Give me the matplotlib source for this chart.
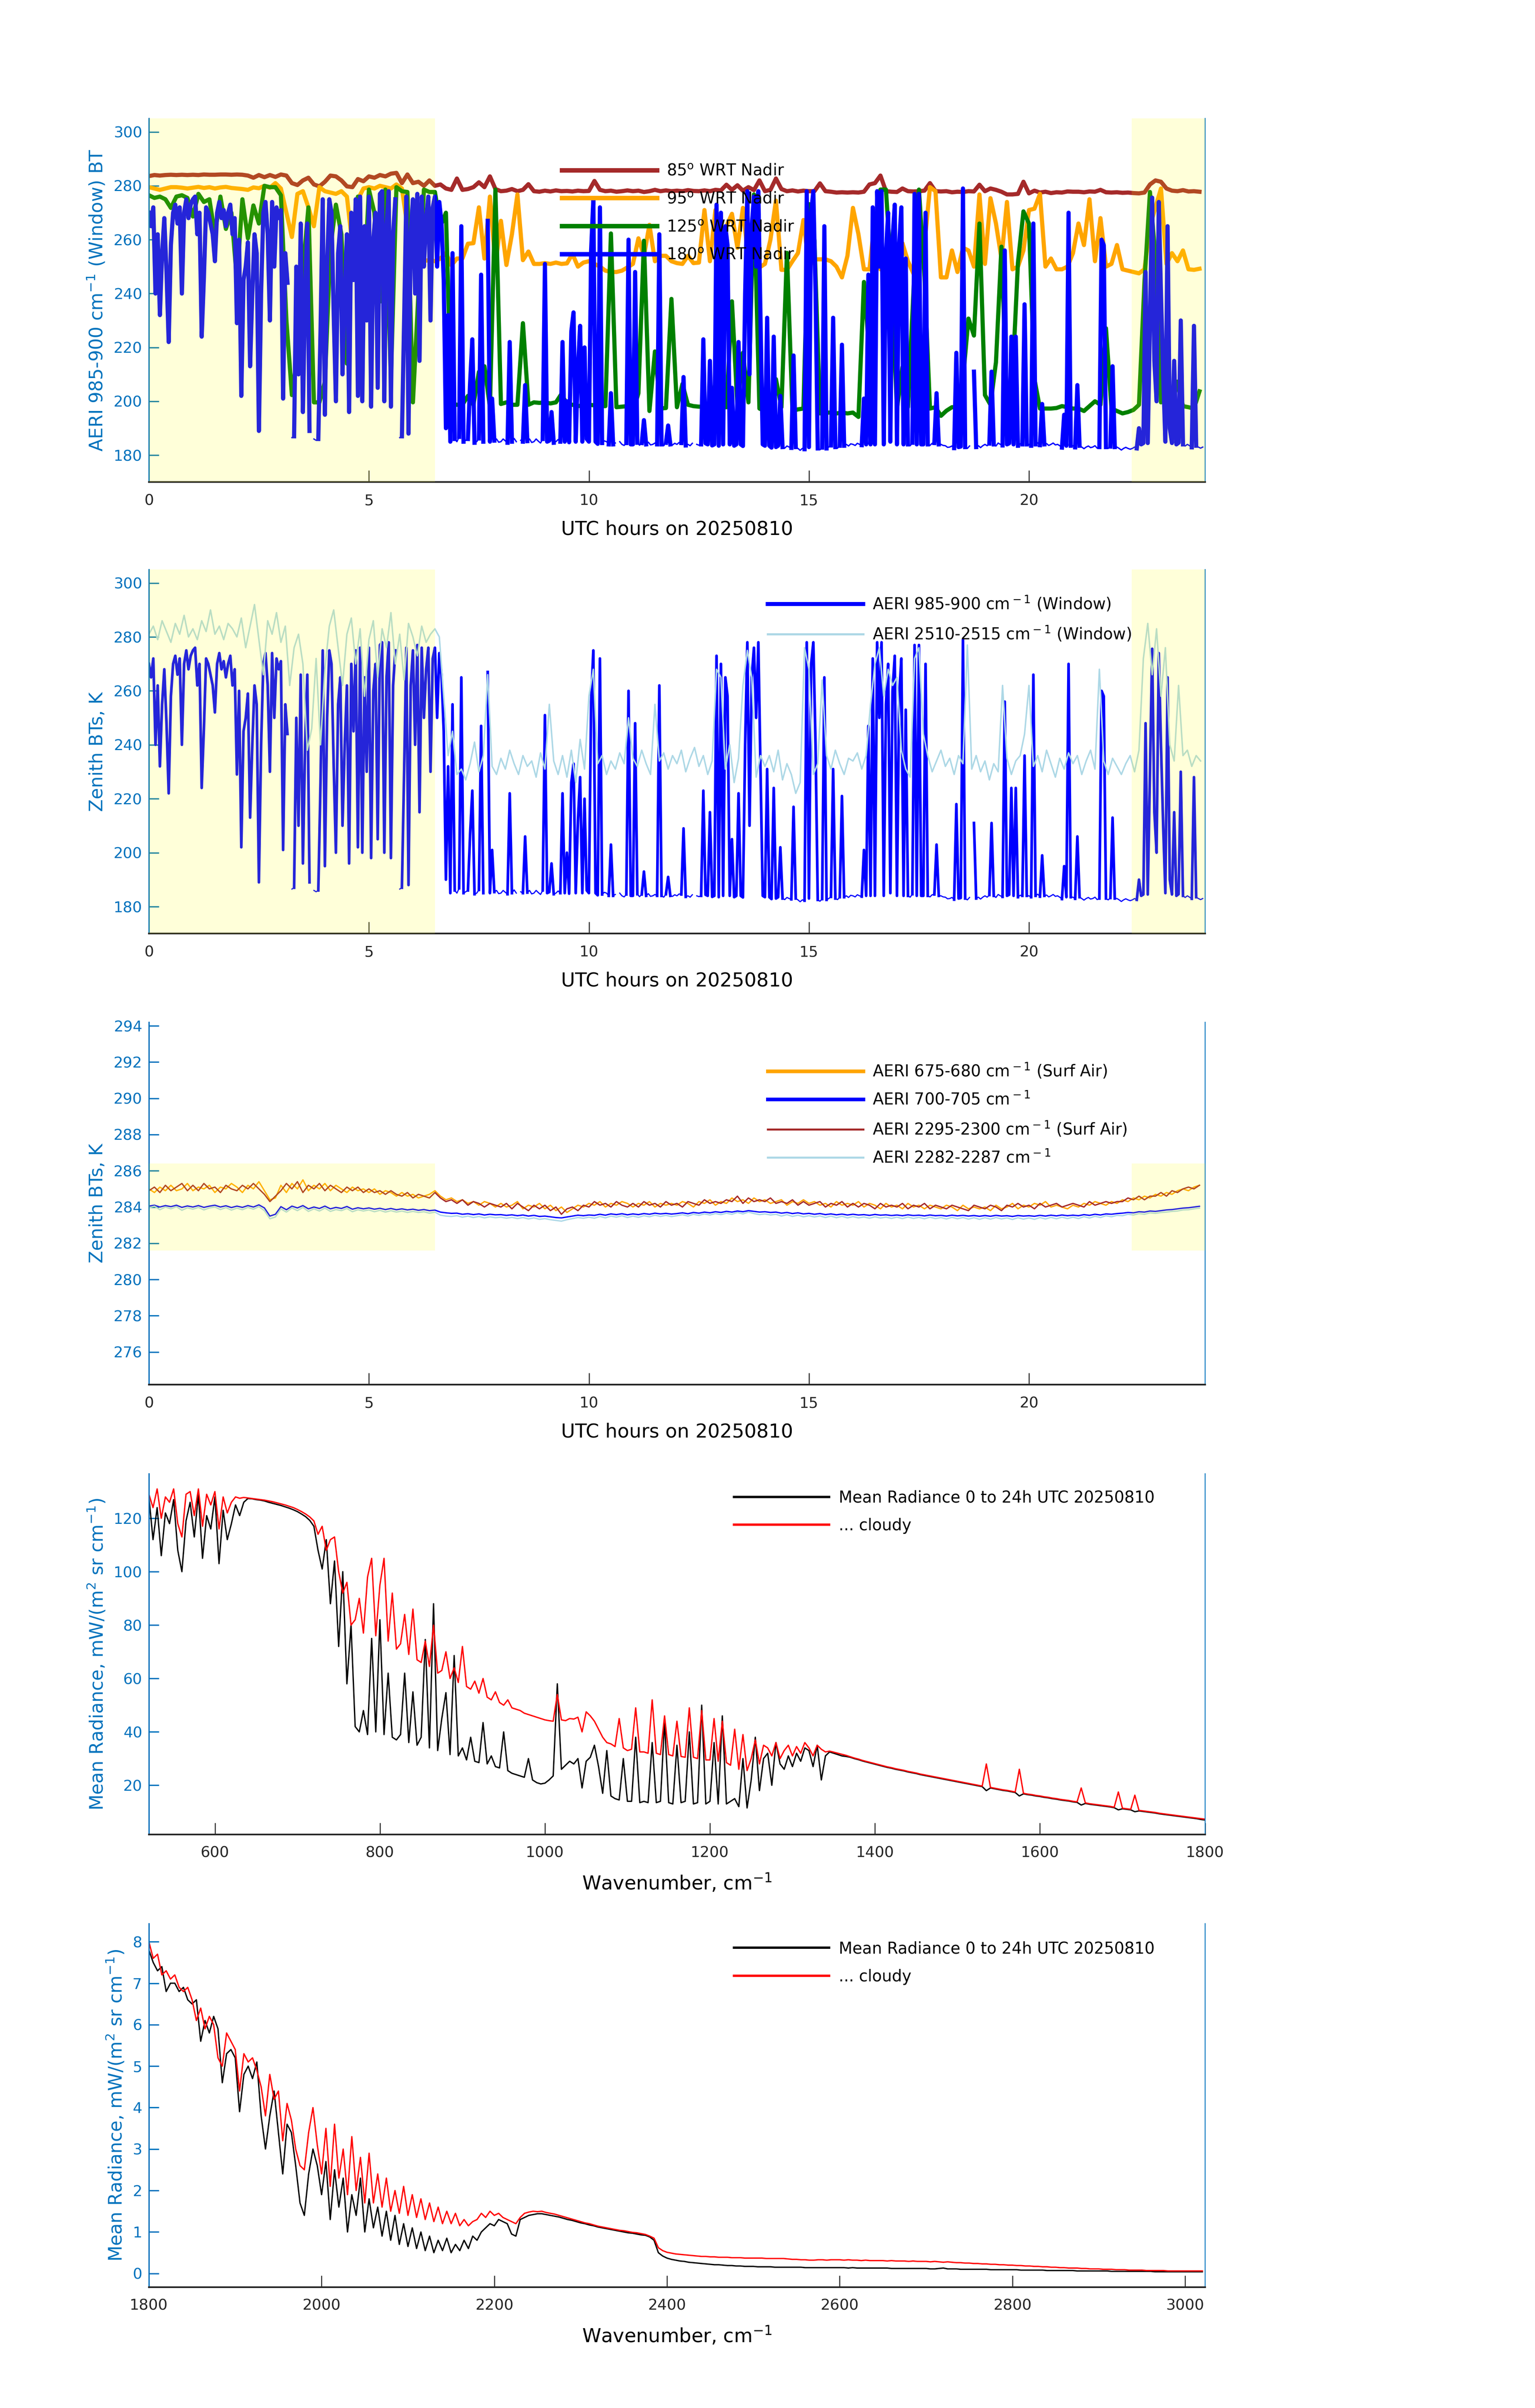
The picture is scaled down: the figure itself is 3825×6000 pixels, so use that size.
import numpy as np
import matplotlib.pyplot as plt

nan = np.nan

# ---------------------------------------------------------------
# Panel 1: window BT at four scan angles (0.125 h steps, 0 .. 23.875 h)

bt_85 = [
    283.6, 284.0, 283.8, 284.0, 284.1, 284.0, 284.1, 284.0,
    284.1, 284.0, 284.2, 284.1, 284.1, 284.2, 284.2, 284.1,
    284.2, 284.1, 283.8, 283.0, 284.0, 283.2, 284.0, 283.3,
    284.2, 283.8, 281.0, 280.3, 282.0, 283.0, 280.5, 279.8,
    281.5, 283.8, 283.5, 282.0, 279.8, 279.5, 282.5, 281.7,
    283.5, 283.0, 284.0, 283.5, 284.5, 284.8, 281.0, 284.2,
    281.0, 281.5, 280.0, 282.0, 280.0, 280.5, 279.0, 278.5,
    282.7, 278.5, 278.8, 279.5, 281.3, 279.5, 283.5, 278.8,
    278.0, 278.2, 278.8, 278.0, 278.5, 280.6, 278.0, 277.8,
    278.2, 277.9, 278.3, 278.0, 278.1, 277.9, 278.2, 278.0,
    278.1, 281.8, 278.5, 278.0, 278.2, 277.8, 278.0, 278.3,
    278.0, 278.2, 277.7, 278.0, 278.5, 278.0, 278.3, 278.0,
    278.2, 278.0, 278.4, 278.1, 278.0, 278.3, 278.0, 278.5,
    278.3, 280.4, 278.5, 280.2, 278.2, 279.5, 278.4, 282.0,
    278.0, 278.5, 282.7, 278.8, 278.0, 278.3, 277.9, 278.2,
    278.0, 278.0, 280.9, 278.0, 277.8, 277.5, 277.6, 277.5,
    277.6, 277.5, 277.8, 280.5, 281.0, 283.8, 278.0, 277.8,
    277.7, 279.0, 278.0, 277.9, 278.0, 278.2, 281.0, 278.0,
    277.9, 278.0, 277.6, 277.8, 277.7, 278.0, 277.9, 280.4,
    278.0, 279.0, 278.5, 277.8, 276.8, 276.8, 277.0, 281.5,
    277.2, 278.2, 277.5, 277.8, 277.3, 277.6, 277.5, 277.9,
    277.8, 277.8, 277.6, 277.9, 277.8, 278.5, 277.6, 277.5,
    277.6, 277.4, 277.5, 277.3, 277.2, 277.5, 280.5, 282.0,
    281.5, 279.0, 278.2, 278.0, 278.4, 277.9, 278.0, 277.8]

bt_95 = [
    279.5, 279.0, 278.5, 279.0, 279.5, 279.5, 279.3, 279.0,
    279.3, 279.6, 279.2, 279.5, 279.0, 279.4, 279.6, 279.2,
    279.0, 278.8, 278.5, 279.4, 279.1, 280.0, 279.3, 281.0,
    279.0, 270.0, 261.0, 277.0, 278.0, 272.0, 265.0, 279.5,
    278.0, 277.5, 277.0, 278.0, 276.0, 258.0, 275.0, 279.0,
    279.5, 279.0, 280.0, 279.5, 279.0, 280.5, 279.0, 265.0,
    252.0, 252.5, 252.0, 252.5, 252.0, 253.0, 255.0, 250.5,
    253.0, 253.0, 258.5, 258.7, 272.0, 253.0, 276.0, 250.6,
    267.0, 250.6, 262.0, 276.8, 252.4, 255.6, 251.0, 251.0,
    251.3, 251.0, 251.5, 251.0, 251.2, 254.7, 250.0, 251.5,
    252.0, 251.0, 250.0, 248.5, 248.0, 248.0, 248.5, 249.7,
    251.0, 260.5, 254.0, 265.5, 252.0, 254.0, 254.0, 252.0,
    251.3, 251.0, 254.0, 251.3, 251.5, 271.0, 252.0, 271.0,
    262.0, 265.0, 269.6, 257.0, 271.8, 252.0, 249.7, 249.7,
    251.0, 260.0, 274.5, 248.8, 248.8, 252.0, 255.0, 267.3,
    250.0, 252.7, 252.7, 252.7, 252.0, 250.0, 246.0, 254.0,
    271.8, 262.0, 249.0, 249.0, 268.0, 249.0, 251.0, 250.0,
    247.5, 258.7, 252.0, 247.4, 257.0, 258.0, 279.5, 278.0,
    246.0, 246.0, 256.0, 248.0, 257.0, 256.0, 250.0, 276.8,
    251.0, 275.4, 266.0, 253.0, 274.0, 249.0, 250.0, 256.0,
    271.0, 271.5, 277.0, 250.0, 253.0, 249.0, 249.0, 250.0,
    255.0, 266.0, 258.0, 275.0, 252.0, 268.0, 250.0, 251.0,
    258.0, 249.0, 248.5, 248.0, 247.5, 249.0, 265.0, 272.0,
    279.0, 251.0, 255.0, 252.0, 256.0, 249.0, 248.8, 249.2]

bt_125 = [
    276.5, 275.5, 276.0, 275.0, 271.8, 276.0, 276.5, 275.5,
    268.6, 277.0, 274.0, 275.0, 262.0, 276.0, 264.0, 270.0,
    245.0, 275.0, 260.5, 272.7, 266.0, 280.0, 279.5, 279.5,
    276.5, 230.0, 202.3, 217.0, 248.8, 272.0, 199.6, 199.6,
    207.3, 257.0, 273.0, 262.0, 214.0, 262.0, 276.0, 238.9,
    278.6, 270.0, 237.0, 278.6, 208.0, 279.5, 278.0, 277.7,
    199.6, 240.0, 278.6, 277.7, 277.7, 265.0, 270.0, 199.2,
    198.7, 198.7, 202.0, 198.7, 210.9, 213.0, 198.0, 278.6,
    199.0, 199.6, 198.7, 198.7, 229.0, 198.7, 199.6, 199.4,
    199.6, 199.2, 199.6, 202.7, 199.0, 198.7, 198.2, 198.5,
    198.7, 198.5, 198.2, 198.2, 262.3, 197.8, 198.0, 198.2,
    196.0, 203.0, 259.6, 196.4, 218.5, 197.3, 197.5, 238.0,
    197.8, 206.4, 198.7, 198.2, 198.0, 198.0, 199.6, 206.4,
    197.8, 197.8, 237.1, 198.0, 218.0, 199.6, 276.8, 197.3,
    196.4, 196.4, 208.2, 197.8, 255.1, 196.4, 197.0, 197.3,
    273.2, 259.6, 195.5, 195.8, 195.8, 195.5, 195.8, 195.5,
    195.8, 194.2, 244.3, 217.0, 246.0, 278.6, 278.6, 246.1,
    197.3, 212.7, 197.8, 240.7, 278.6, 246.1, 197.3, 197.8,
    194.6, 196.5, 197.8, 197.8, 208.2, 230.7, 224.4, 266.0,
    202.3, 198.7, 214.5, 257.4, 198.7, 208.2, 251.5, 270.5,
    266.0, 208.2, 197.3, 197.3, 197.3, 197.5, 198.2, 197.8,
    197.3, 197.3, 196.4, 198.2, 200.0, 198.7, 227.1, 197.3,
    196.4, 195.5, 196.0, 196.8, 198.7, 244.3, 277.7, 253.3,
    199.6, 202.3, 198.2, 207.3, 198.2, 197.8, 197.3, 203.7]

# 180 deg (zenith) = AERI 985-900 window BT, 0.05 h steps
bt_180 = [
    270, 265, 272, 240, 262, 232, 255, 268, 248, 222, 258, 270, 273, 266, 272, 240, 270, 275, 268, 273,
    275, 276, 262, 270, 224, 246, 272, 270, 266, 262, 252, 270, 274, 268, 271, 265, 270, 273, 262, 268,
    229, 260, 202, 245, 250, 259, 213, 240, 262, 255, 189, 240, 270, 274, 262, 230, 274, 250, 272, 268,
    271, 201, 255, 244, nan, 186.5, 187, 250, 210, 266, 196, 240, 266, 189, nan, 186, 185.5, 186, 226, 275,
    195, 250, 275, 270, 232, 200, 255, 265, 210, 240, 262, 196, 270, 245, 275, 202, 276, 200, 265, 230,
    276, 198, 260, 270, 205, 277, 278, 200, 265, 278, 198, 262, 275, nan, 186.5, 187, 230, 276, 188, 262,
    275, 240, 277, 215, 276, 250, 268, 276, 230, 272, 276, 250, 274, 266, 245, 190, 232, 185, 255, 186,
    185, 186.8, 265, 185, 185.5, 186, 207, 223, 184.6, 185, 186.2, 247, 185, nan, 267, 185, 201, 185.4, 186, 184.8,
    185, 186, 185.3, 184.6, 222, 185, 186.2, 185, nan, 185.5, 185, 206, 185.2, 186, 184.7, 185, 186, 185.2, 184.5, 186,
    251, 185, 185.4, 196, 184.6, 185, 185.8, 185, 222, 185, 200, 184.8, 226, 233, 185, 212, 228, 185, 220, 186,
    185, 256, 275, 185, 184.2, 272, 184.5, 185.3, 185, 184, 203, 184, 184.5, nan, 185, 184, 183.6, 184.5, 260, 184,
    184, 248, 184.6, 183.7, 184.5, 193, 184, 184.8, 183.8, 184, 184.5, 184, 262, 184, 183.5, 184.6, 191, 184, 183.8, 184.4,
    184, 184.7, 184.5, 209, 183.6, 184, 183.5, 184.4, nan, 184, 183.7, 184, 223, 184.4, 184, 215, 183.6, 184, 273, 183.5,
    270, 184, 265, 258, 184, 205, 183.5, 184, 222, 184, 183.4, 240, 278, 210, 265, 276, 250, 278, 230, 184,
    183.5, 231, 183.5, 182.8, 224, 183, 183.5, 202, 183, 182.6, 183.4, 183, 182.7, 217, 183, 182.5, 181.8, 182.5, 182.2, 278,
    183, 270, 278, 240, 182.5, 182, 182.8, 265, 182.5, 183, 183.6, 231, 183, 182.6, 183.5, 221, 183.5, 184, 183.4, 184.2,
    184, 183.6, 184.4, 184, 183.7, 201, 184, 247, 184, 272, 184, 278, 250, 278, 184, 255, 270, 185, 260, 273,
    184, 258, 272, 184, 253, 184, 183.5, 184.6, 277, 184, 277, 184, 184, 270, 184, 183.6, 184.4, 184.5, 203, 184,
    184, 183.6, 183.5, 182.9, 183, 183.4, 182.6, 218, 183, 183.2, 279, 183, 182.5, 183.4, nan, 211, 183, 183.5, 182.8, 183.5,
    184, 183.5, 184.3, 211, 184, 183.4, 184.5, 184, 183.6, 256, 184, 184.4, 224, 184, 224, 183.5, 184.2, 184, 236, 184,
    184, 183.5, 266, 184, 184.6, 183.7, 199, 184, 184.3, 183.6, 184, 184.5, 183.8, 184, 183.5, 182.8, 195, 183.5, 270, 183.5,
    183.5, 182.9, 206, 183.5, 183, 182.4, 183, 183.4, 182.8, 183, 183.5, 182.6, 183, 260, 258, 183, 182.5, 183.2, 213, 183,
    183, 182.5, 181.9, 182.5, 182.9, 182.5, 182.2, 182.5, 183, 182.5, 190, 184, 184.5, 248, 184.5, 230, 275.6, 215, 200, 274,
    240, 210, 185, 265, 190, 184.5, 215, 184, 184.6, 230, 184, 183.4, 184, 183.5, 182.9, 228, 183.5, 183, 182.6, 183]

# ---------------------------------------------------------------
# Panel 2: AERI 2510-2515 window BT (0.1 h steps)

bt_2510 = [
    281, 284, 279, 286, 282, 278, 285, 281, 288, 280,
    283, 279, 286, 282, 290, 281, 284, 279, 285, 283,
    280, 287, 276, 284, 292, 279, 266, 286, 281, 289,
    278, 284, 262, 276, 281, 270, 238, 246, 272, 240,
    268, 284, 290, 276, 262, 281, 287, 270, 283, 258,
    279, 286, 265, 283, 276, 289, 270, 281, 264, 285,
    280, 273, 284, 278, 281, 283, 280, 258, 236, 245,
    229, 231, 227, 233, 241, 230, 236, 266, 232, 229,
    235, 231, 238, 233, 229, 236, 232, 234, 228, 237,
    231, 255, 234, 229, 236, 228, 238, 226, 242, 231,
    258, 268, 233, 236, 229, 234, 231, 237, 233, 250,
    235, 232, 238, 233, 229, 255, 234, 237, 231, 236,
    233, 238, 230, 235, 239, 232, 236, 229, 234, 268,
    265, 231, 240, 226, 235, 262, 275, 265, 228, 236,
    232, 236, 230, 238, 227, 233, 229, 222, 226, 276,
    268, 229, 233, 264, 236, 231, 238, 233, 229, 235,
    234, 237, 231, 236, 255, 270, 276, 258, 268, 262,
    265, 238, 231, 228, 272, 276, 244, 236, 230, 234,
    238, 232, 235, 229, 236, 233, 277, 231, 236, 230,
    234, 227, 233, 230, 262, 235, 229, 234, 236, 244,
    262, 232, 236, 230, 238, 233, 228, 235, 231, 237,
    233, 236, 229, 234, 238, 231, 268, 234, 229, 235,
    232, 229, 233, 236, 230, 238, 272, 285, 266, 283,
    258, 276, 240, 234, 262, 236, 238, 232, 236, 234]

# ---------------------------------------------------------------
# Panel 3: surface air / opaque channels (0.125 h steps)

bt_675 = [
    285.0, 284.8, 285.1, 284.9, 285.2, 284.9, 285.0, 285.3,
    284.9, 285.1, 285.0, 285.2, 284.8, 285.1, 285.0, 285.3,
    285.1, 284.8, 285.2, 285.0, 285.4, 284.9, 284.4, 284.5,
    285.2, 284.8, 285.3, 285.0, 285.5, 284.9, 285.2, 285.0,
    285.3, 284.9, 285.2, 285.0, 284.8, 285.1, 284.9, 285.0,
    284.8, 285.0, 284.7, 284.9, 284.8, 284.6, 284.8, 284.6,
    284.7, 284.5, 284.6, 284.7, 284.9, 284.6, 284.4, 284.5,
    284.3, 284.4, 284.2, 284.3, 284.1, 284.3, 284.2, 284.0,
    284.2, 284.0, 284.1, 284.3, 283.9, 284.1, 284.0, 284.2,
    283.9, 284.1, 283.8, 284.0, 283.7, 283.9, 284.1, 284.0,
    284.2, 284.1, 284.3, 284.0, 284.2, 284.1, 284.3, 284.2,
    284.0, 284.2, 284.1, 284.3, 284.0, 284.2, 284.1, 284.2,
    284.1, 284.3, 284.2, 284.0, 284.3, 284.2, 284.4, 284.1,
    284.3, 284.2, 284.5, 284.3, 284.4, 284.2, 284.5, 284.3,
    284.4, 284.2, 284.3, 284.4, 284.1, 284.3, 284.2, 284.4,
    284.2, 284.3, 284.1, 284.2, 284.0, 284.3, 284.1, 284.2,
    284.1, 284.3, 284.0, 284.2, 284.1, 283.9, 284.2, 284.0,
    284.1, 283.9, 284.2, 284.0, 284.1, 283.9, 284.1, 284.0,
    283.9, 284.1, 284.0, 283.8, 284.1, 283.9, 284.0, 283.9,
    284.0, 283.8, 284.1, 283.9, 284.0, 284.2, 283.9, 284.1,
    284.0, 284.2, 284.1, 284.3, 284.0, 284.1, 284.0, 283.9,
    284.1, 284.0, 284.2, 284.1, 284.3, 284.2, 284.1, 284.3,
    284.2, 284.4, 284.3, 284.5, 284.4, 284.6, 284.5, 284.7,
    284.6, 284.8, 284.7, 284.9, 285.0, 284.9, 285.1, 285.2]

bt_700 = [
    284.05, 284.10, 284.00, 284.08, 284.02, 284.10, 283.98, 284.06,
    284.00, 284.08, 283.98, 284.05, 284.10, 284.00, 284.07, 283.97,
    284.05, 283.98, 284.08, 284.00, 284.12, 283.95, 283.50, 283.60,
    284.02, 283.85, 284.05, 283.95, 284.08, 283.90, 284.00, 283.92,
    284.05, 283.90, 283.98, 283.92, 284.03, 283.88, 283.96, 283.90,
    283.95, 283.88, 283.93, 283.86, 283.92, 283.85, 283.90, 283.84,
    283.88, 283.82, 283.86, 283.80, 283.83, 283.72, 283.68, 283.65,
    283.66, 283.60, 283.63, 283.58, 283.62, 283.56, 283.60, 283.57,
    283.58, 283.54, 283.57, 283.52, 283.56, 283.50, 283.54, 283.48,
    283.50, 283.46, 283.42, 283.40, 283.45, 283.50, 283.55, 283.52,
    283.56, 283.54, 283.60, 283.55, 283.62, 283.58, 283.63, 283.57,
    283.62, 283.58, 283.64, 283.60, 283.66, 283.62, 283.65, 283.61,
    283.64, 283.68, 283.63, 283.70, 283.66, 283.72, 283.68, 283.74,
    283.70, 283.76, 283.72, 283.78, 283.74, 283.80, 283.76, 283.72,
    283.74, 283.70, 283.72, 283.66, 283.70, 283.64, 283.68, 283.62,
    283.65, 283.60, 283.64, 283.58, 283.62, 283.57, 283.61, 283.56,
    283.60, 283.56, 283.58, 283.54, 283.59, 283.55, 283.57, 283.53,
    283.56, 283.52, 283.57, 283.53, 283.55, 283.51, 283.56, 283.52,
    283.54, 283.50, 283.55, 283.51, 283.54, 283.50, 283.53, 283.49,
    283.53, 283.49, 283.54, 283.50, 283.52, 283.48, 283.53, 283.50,
    283.52, 283.49, 283.54, 283.50, 283.55, 283.51, 283.56, 283.52,
    283.55, 283.52, 283.58, 283.54, 283.60, 283.56, 283.62, 283.60,
    283.64, 283.66, 283.70, 283.68, 283.74, 283.72, 283.78, 283.76,
    283.80, 283.84, 283.86, 283.90, 283.94, 283.96, 284.00, 284.04]

bt_2295 = [
    284.9, 285.1, 284.8, 285.2, 284.9, 285.1, 285.3, 284.9,
    285.2, 284.9, 285.3, 285.0, 285.1, 284.8, 285.2, 285.0,
    284.9, 285.2, 285.0, 285.3, 285.0, 284.7, 284.3, 284.6,
    284.9, 285.3, 285.0, 285.4, 284.8, 285.2, 285.0, 285.3,
    284.9, 285.2, 285.0, 284.8, 285.1, 284.9, 285.1, 284.8,
    285.0, 284.8, 284.9, 284.7, 284.9, 284.7, 284.6, 284.8,
    284.5, 284.7, 284.6, 284.5, 284.8, 284.5, 284.3, 284.4,
    284.2, 284.4, 284.1, 284.3, 284.2, 284.0, 284.2, 284.1,
    284.0, 284.2, 283.9, 284.2, 284.0, 283.8, 284.1, 283.9,
    284.1, 283.8, 284.0, 283.6, 283.9, 284.0, 283.8, 284.1,
    284.0, 284.3, 284.1, 284.2, 284.0, 284.3, 284.1, 284.0,
    284.2, 284.0, 284.3, 284.1, 284.2, 284.0, 284.3, 284.1,
    284.2, 284.0, 284.3, 284.2, 284.1, 284.4, 284.2, 284.3,
    284.2, 284.4, 284.3, 284.6, 284.2, 284.5, 284.3, 284.4,
    284.3, 284.5, 284.2, 284.3, 284.2, 284.4, 284.1, 284.3,
    284.1, 284.2, 284.3, 284.0, 284.2, 284.1, 284.3, 284.0,
    284.2, 284.0, 284.2, 284.1, 283.9, 284.2, 284.0, 284.1,
    284.0, 284.2, 283.9, 284.1, 284.0, 284.2, 283.9, 284.1,
    284.0, 283.9, 284.1, 284.0, 283.9, 283.8, 284.1, 284.0,
    283.9, 284.1, 284.0, 283.8, 284.1, 284.0, 284.2, 284.0,
    284.1, 283.9, 284.2, 284.0, 284.1, 284.2, 284.0, 284.1,
    284.2, 284.1, 284.0, 284.3, 284.1, 284.2, 284.3, 284.2,
    284.3, 284.3, 284.5, 284.4, 284.6, 284.4, 284.6, 284.6,
    284.8, 284.6, 284.9, 284.8, 285.0, 285.1, 285.0, 285.2]

bt_2282 = [
    283.95, 284.05, 283.85, 284.00, 283.90, 284.02, 283.82, 283.96,
    283.88, 283.98, 283.84, 283.95, 284.00, 283.86, 283.97, 283.83,
    283.94, 283.85, 283.98, 283.88, 284.02, 283.80, 283.35, 283.45,
    283.90, 283.72, 283.95, 283.80, 283.98, 283.76, 283.90, 283.78,
    283.94, 283.76, 283.86, 283.80, 283.92, 283.74, 283.85, 283.78,
    283.84, 283.74, 283.82, 283.72, 283.80, 283.72, 283.78, 283.70,
    283.76, 283.70, 283.74, 283.66, 283.72, 283.55, 283.50, 283.48,
    283.52, 283.44, 283.50, 283.42, 283.48, 283.40, 283.46, 283.41,
    283.44, 283.38, 283.43, 283.36, 283.42, 283.34, 283.40, 283.32,
    283.36, 283.30, 283.26, 283.22, 283.30, 283.36, 283.42, 283.38,
    283.44, 283.38, 283.48, 283.40, 283.50, 283.44, 283.52, 283.42,
    283.50, 283.43, 283.52, 283.46, 283.55, 283.48, 283.54, 283.47,
    283.52, 283.58, 283.50, 283.60, 283.54, 283.62, 283.56, 283.64,
    283.58, 283.66, 283.60, 283.70, 283.62, 283.72, 283.64, 283.58,
    283.62, 283.56, 283.60, 283.50, 283.58, 283.48, 283.55, 283.46,
    283.52, 283.45, 283.51, 283.42, 283.50, 283.41, 283.49, 283.40,
    283.47, 283.40, 283.45, 283.38, 283.46, 283.39, 283.44, 283.37,
    283.44, 283.36, 283.45, 283.37, 283.43, 283.35, 283.44, 283.36,
    283.42, 283.34, 283.43, 283.35, 283.42, 283.33, 283.41, 283.32,
    283.41, 283.33, 283.42, 283.34, 283.40, 283.31, 283.41, 283.33,
    283.40, 283.32, 283.42, 283.34, 283.43, 283.35, 283.44, 283.36,
    283.44, 283.36, 283.47, 283.39, 283.49, 283.42, 283.52, 283.46,
    283.54, 283.52, 283.60, 283.56, 283.64, 283.60, 283.68, 283.65,
    283.70, 283.72, 283.76, 283.78, 283.84, 283.85, 283.90, 283.94]

# ---------------------------------------------------------------
# Panel 4: mean radiance 520-1800 cm-1 (5 cm-1 steps)

rad_all_lw = [
    128, 112, 124, 106, 122, 118, 127, 108, 100, 119,
    126, 113, 129, 105, 121, 116, 128, 103, 123, 112,
    118, 125, 121, 126, 127.4, 127.3, 127.0, 126.8, 126.5, 126.0,
    125.6, 125.2, 124.8, 124.3, 123.8, 123.2, 122.5, 121.6, 120.6, 119.2,
    117, 108, 101, 112, 88, 104, 72, 100, 58, 80,
    42, 40, 48, 39, 75, 40, 82, 39, 62, 38,
    37, 39, 62, 36, 55, 35, 38, 74.6, 34, 88,
    33, 45, 54.7, 31.5, 68.6, 31, 34, 29.5, 38, 29,
    28.5, 43.5, 28, 31, 27, 26.5, 40, 25.5, 24.5, 24,
    23.5, 23, 30, 22, 21, 20.5, 20.8, 22, 23.5, 58,
    26, 27.5, 29, 28, 30, 19, 29, 30.5, 35, 27,
    17, 33, 16, 15, 14.5, 30, 14, 14, 38, 13.5,
    14, 13.5, 36, 13.5, 14, 44, 13.5, 13, 35, 13.5,
    14, 40, 13, 13.5, 50, 13, 14, 36, 13, 46,
    13, 14, 15, 12, 30, 11.5, 22, 38, 18, 30,
    32, 20, 36, 28, 26, 31, 27, 32, 29, 34,
    33, 27, 35, 22, 31, 32.5, 32, 31.5, 31, 30.8,
    30.5, 30.0, 29.6, 29.1, 28.7, 28.3, 27.9, 27.5, 27.1, 26.7,
    26.4, 26.0, 25.7, 25.4, 25.0, 24.7, 24.4, 24.0, 23.7, 23.4,
    23.1, 22.8, 22.5, 22.2, 21.9, 21.6, 21.3, 21.0, 20.7, 20.4,
    20.1, 19.8, 19.5, 18.0, 19.0, 18.7, 18.4, 18.1, 17.9, 17.6,
    17.3, 16.0, 16.8, 16.5, 16.3, 16.0, 15.8, 15.5, 15.3, 15.0,
    14.8, 14.5, 14.3, 14.1, 13.8, 13.6, 12.6, 13.2, 12.9, 12.7,
    12.5, 12.3, 12.1, 11.9, 11.6, 10.8, 11.2, 11.0, 10.8, 10.1,
    10.4, 10.2, 10.0, 9.8, 9.6, 9.3, 9.1, 8.9, 8.7, 8.5,
    8.3, 8.1, 7.9, 7.7, 7.5, 7.2, 7.0]

rad_cld_lw = [
    129, 124, 131, 120, 128, 126, 131, 118, 113, 129,
    130, 121, 131, 117, 129, 125, 130, 116, 128, 122,
    126, 128, 127.5, 127.8, 127.6, 127.4, 127.2, 127.0, 126.8, 126.5,
    126.2, 125.8, 125.4, 125.0, 124.5, 124.0, 123.3, 122.5, 121.6, 120.5,
    119, 114, 117, 108, 112, 113, 100, 92, 96, 80,
    82, 90, 77, 98, 105, 76, 95, 105, 74, 92,
    71, 73, 84, 69, 86, 67, 66, 74, 64.5, 80,
    62, 63, 70, 60, 64, 58.5, 72, 57, 56, 59,
    54.5, 60, 53, 52, 55, 51, 50, 52, 49, 48.5,
    48, 47, 46.5, 46, 45.5, 45, 44.5, 44.2, 44, 54,
    44.5, 44.2, 45, 44.8, 45.5, 40, 47.5, 46, 44, 41,
    38, 36, 35.5, 34.5, 45, 34, 33, 33.5, 49, 32.5,
    32.5, 32, 52, 32, 31.5, 46, 31.5, 31, 44, 30.8,
    30.5, 49, 30.5, 30, 48, 29.5, 29.5, 45, 29, 44,
    28.5, 27.5, 41, 26, 39, 25.5, 30, 37, 28, 35,
    34, 31, 36, 30, 33, 35, 31, 34.5, 32, 36,
    34, 31, 35, 33.5, 32.5, 32.8, 32.4, 32, 31.6, 31.2,
    30.7, 30.2, 29.8, 29.3, 28.9, 28.5, 28.1, 27.7, 27.3, 26.9,
    26.6, 26.2, 25.9, 25.6, 25.2, 24.9, 24.6, 24.2, 23.9, 23.6,
    23.3, 23.0, 22.7, 22.4, 22.1, 21.8, 21.5, 21.2, 20.9, 20.6,
    20.3, 20.0, 19.7, 28.0, 19.2, 18.9, 18.6, 18.3, 18.1, 17.8,
    17.5, 26.0, 17.0, 16.7, 16.5, 16.2, 16.0, 15.7, 15.5, 15.2,
    15.0, 14.7, 14.5, 14.3, 14.0, 13.8, 19.0, 13.4, 13.1, 12.9,
    12.7, 12.5, 12.3, 12.1, 11.8, 17.5, 11.4, 11.2, 11.0, 16.3,
    10.6, 10.4, 10.2, 10.0, 9.8, 9.5, 9.3, 9.1, 8.9, 8.7,
    8.5, 8.3, 8.1, 7.9, 7.7, 7.5, 7.3]

# ---------------------------------------------------------------
# Panel 5: mean radiance 1800-3020 cm-1 (5 cm-1 steps)

rad_all_sw = [
    7.8, 7.5, 7.3, 7.4, 6.8, 7.0, 7.0, 6.8, 6.9, 6.6,
    6.5, 6.6, 5.6, 6.1, 5.8, 6.2, 5.9, 4.6, 5.3, 5.4,
    5.2, 3.9, 4.8, 5.0, 4.7, 5.1, 3.8, 3.0, 3.8, 4.4,
    3.4, 2.4, 3.6, 3.4, 2.6, 1.7, 1.4, 2.4, 3.0, 2.6,
    1.9, 2.7, 1.3, 2.5, 1.6, 2.3, 1.0, 1.9, 1.4, 2.3,
    1.0, 1.8, 1.1, 1.6, 0.9, 1.5, 0.8, 1.4, 0.7, 1.2,
    0.65, 1.1, 0.6, 1.0, 0.55, 0.9, 0.5, 0.8, 0.55, 0.85,
    0.5, 0.7, 0.55, 0.8, 0.6, 0.9, 0.8, 1.0, 1.1, 1.2,
    1.15, 1.3, 1.25, 1.2, 0.95, 0.9, 1.3, 1.35, 1.4, 1.42,
    1.44, 1.44, 1.42, 1.4, 1.38, 1.36, 1.33, 1.3, 1.28, 1.25,
    1.22, 1.2, 1.17, 1.15, 1.12, 1.1, 1.08, 1.06, 1.04, 1.02,
    1.0, 0.98, 0.97, 0.95, 0.93, 0.92, 0.88, 0.8, 0.5, 0.42,
    0.37, 0.34, 0.32, 0.3, 0.29, 0.27, 0.26, 0.25, 0.24, 0.23,
    0.22, 0.21, 0.21, 0.2, 0.19, 0.19, 0.18, 0.18, 0.17, 0.17,
    0.17, 0.16, 0.16, 0.16, 0.16, 0.15, 0.15, 0.15, 0.15, 0.15,
    0.15, 0.15, 0.14, 0.14, 0.14, 0.14, 0.14, 0.14, 0.14, 0.14,
    0.14, 0.14, 0.13, 0.14, 0.13, 0.13, 0.13, 0.13, 0.13, 0.13,
    0.13, 0.13, 0.12, 0.12, 0.12, 0.12, 0.12, 0.12, 0.12, 0.12,
    0.12, 0.11, 0.11, 0.12, 0.13, 0.11, 0.11, 0.11, 0.10, 0.10,
    0.10, 0.10, 0.10, 0.10, 0.10, 0.09, 0.09, 0.09, 0.09, 0.09,
    0.09, 0.09, 0.08, 0.08, 0.08, 0.08, 0.08, 0.08, 0.07, 0.07,
    0.07, 0.07, 0.07, 0.07, 0.07, 0.06, 0.06, 0.06, 0.06, 0.06,
    0.06, 0.06, 0.06, 0.05, 0.05, 0.05, 0.05, 0.05, 0.05, 0.05,
    0.05, 0.05, 0.05, 0.04, 0.04, 0.04, 0.04, 0.04, 0.04, 0.04,
    0.04, 0.04, 0.04, 0.04, 0.04]

rad_cld_sw = [
    8.0, 7.6, 7.7, 7.2, 7.3, 7.1, 7.2, 6.9, 6.8, 6.9,
    6.6, 6.1, 6.4, 5.9, 6.2, 6.0, 5.2, 5.0, 5.8, 5.6,
    5.4, 4.4, 5.3, 5.1, 5.2, 4.9, 4.5, 3.8, 4.8, 4.2,
    4.4, 3.2, 4.1, 3.7, 3.0, 2.6, 2.5, 3.4, 4.0, 3.1,
    2.4, 3.5, 2.1, 3.6, 2.3, 3.0, 1.9, 3.3, 2.0, 2.8,
    1.7, 2.9, 1.7, 2.4, 1.6, 2.3, 1.5, 2.0, 1.45, 2.1,
    1.4, 1.9, 1.35, 1.8, 1.3, 1.7, 1.25, 1.6, 1.2, 1.5,
    1.2, 1.45, 1.15, 1.3, 1.15, 1.25, 1.3, 1.45, 1.35, 1.5,
    1.4, 1.45, 1.35, 1.3, 1.25, 1.2, 1.35, 1.45, 1.48, 1.5,
    1.49, 1.5, 1.47, 1.45, 1.43, 1.4, 1.37, 1.34, 1.31, 1.28,
    1.25, 1.22, 1.2, 1.17, 1.14, 1.12, 1.1, 1.08, 1.06, 1.04,
    1.03, 1.01, 0.99, 0.98, 0.96, 0.94, 0.9, 0.85, 0.62, 0.55,
    0.51, 0.49, 0.47, 0.46, 0.45, 0.44, 0.43, 0.42, 0.41, 0.41,
    0.40, 0.40, 0.39, 0.39, 0.39, 0.38, 0.38, 0.38, 0.37, 0.37,
    0.37, 0.37, 0.37, 0.36, 0.36, 0.36, 0.36, 0.36, 0.35, 0.34,
    0.34, 0.33, 0.33, 0.32, 0.32, 0.33, 0.33, 0.32, 0.33, 0.33,
    0.33, 0.32, 0.33, 0.32, 0.32, 0.31, 0.32, 0.31, 0.31, 0.31,
    0.31, 0.30, 0.31, 0.30, 0.30, 0.30, 0.29, 0.30, 0.29, 0.29,
    0.29, 0.28, 0.29, 0.28, 0.27, 0.28, 0.27, 0.26, 0.26, 0.25,
    0.25, 0.24, 0.24, 0.23, 0.23, 0.22, 0.22, 0.21, 0.21, 0.20,
    0.20, 0.19, 0.19, 0.18, 0.18, 0.17, 0.17, 0.16, 0.16, 0.15,
    0.15, 0.14, 0.14, 0.13, 0.13, 0.13, 0.12, 0.12, 0.11, 0.11,
    0.11, 0.10, 0.10, 0.10, 0.09, 0.09, 0.09, 0.08, 0.08, 0.08,
    0.08, 0.07, 0.07, 0.07, 0.07, 0.07, 0.06, 0.06, 0.06, 0.06,
    0.06, 0.06, 0.06, 0.06, 0.06]

# ---------------------------------------------------------------
# axes: hours and wavenumbers

hr = np.arange(len(bt_85)) * 0.125
hr_b = np.arange(len(bt_180)) * 0.05
hr_lb = np.arange(len(bt_2510)) * 0.1
wn_lw = 520 + 5 * np.arange(len(rad_all_lw))
wn_sw = 1800 + 5 * np.arange(len(rad_all_sw))

# zenith window BT: clear-sky floor drawn thin, cloud spikes drawn thick
b180 = np.array(bt_180)
cloud = np.nan_to_num(b180) >= 190
near = cloud | np.roll(cloud, 1) | np.roll(cloud, -1)
b180_cloud = np.where(near, b180, nan)

day_spans = [(0, 6.5), (22.33, 24)]

mblue = '#0072BD'
brown = '#A52A2A'
orange = '#FFA500'
green = '#008000'
blue = '#0000FF'
lblue = '#ADD8E6'

fig = plt.figure(figsize=(12.75, 20), dpi=300)
L, W = 0.097, 0.688
boxes = [(0.7998, 0.1510), (0.6123, 0.1512), (0.4250, 0.1505), (0.2382, 0.1498), (0.0502, 0.1510)]
axs = [fig.add_axes([L, b, W, h]) for b, h in boxes]


def style(ax):
    ax.spines['top'].set_visible(False)
    ax.spines['left'].set_color(mblue)
    ax.spines['left'].set_linewidth(0.8)
    ax.spines['right'].set_color(mblue)
    ax.spines['right'].set_linewidth(0.5)
    ax.spines['bottom'].set_color('#262626')
    ax.spines['bottom'].set_linewidth(1.0)
    ax.tick_params(axis='x', direction='in', length=7, width=0.6, pad=7,
                   labelsize=9, colors='#262626')
    ax.tick_params(axis='y', direction='in', length=6, width=0.8, pad=4,
                   labelsize=9, colors=mblue)


def legend(ax, x, y, widths):
    leg = ax.legend(loc='upper left', bbox_to_anchor=(x, y), frameon=False, fontsize=9.5,
                    handlelength=6, handletextpad=0.6, labelspacing=0.75,
                    borderpad=0, borderaxespad=0)
    for ln, w in zip(leg.get_lines(), widths):
        ln.set_linewidth(w)
    return leg


# ---- panel 1
ax = axs[0]
ax.plot(hr, bt_85, color=brown, lw=2.5, label=r'85$^{\rm o}$ WRT Nadir')
ax.plot(hr, bt_95, color=orange, lw=2.5, label=r'95$^{\rm o}$ WRT Nadir')
ax.plot(hr, bt_125, color=green, lw=2.5, label=r'125$^{\rm o}$ WRT Nadir')
ax.plot(hr_b, b180_cloud, color=blue, lw=2.5, label=r'180$^{\rm o}$ WRT Nadir')
ax.plot(hr_b, bt_180, color=blue, lw=0.8)
for a, b in day_spans:
    ax.axvspan(a, b, color='yellow', alpha=0.15, lw=0, zorder=5)
ax.set_xlim(0, 24)
ax.set_ylim(170, 305)
ax.set_yticks(np.arange(180, 301, 20))
ax.set_xticks([0, 5, 10, 15, 20])
ax.set_ylabel(r'AERI 985-900 cm$^{-1}$ (Window) BT', color=mblue, fontsize=11)
ax.set_xlabel('UTC hours on 20250810', fontsize=11.5, labelpad=7)
style(ax)
legend(ax, 0.391, 0.877, [2.7, 2.7, 2.7, 2.7])

# ---- panel 2
ax = axs[1]
ax.plot(hr_b, b180_cloud, color=blue, lw=1.6, label=r'AERI 985-900 cm$^{\rm -1}$ (Window)')
ax.plot(hr_b, bt_180, color=blue, lw=0.7)
ax.plot(hr_lb, bt_2510, color=lblue, lw=0.9, label=r'AERI 2510-2515 cm$^{\rm -1}$ (Window)')
for a, b in day_spans:
    ax.axvspan(a, b, color='yellow', alpha=0.15, lw=0, zorder=5)
ax.set_xlim(0, 24)
ax.set_ylim(170, 305)
ax.set_yticks(np.arange(180, 301, 20))
ax.set_xticks([0, 5, 10, 15, 20])
ax.set_ylabel('Zenith BTs, K', color=mblue, fontsize=11)
ax.set_xlabel('UTC hours on 20250810', fontsize=11.5, labelpad=7)
style(ax)
legend(ax, 0.586, 0.93, [2.4, 1.3])

# ---- panel 3
ax = axs[2]
ax.plot(hr, bt_675, color=orange, lw=0.8, label=r'AERI 675-680 cm$^{\rm -1}$ (Surf Air)')
ax.plot(hr, bt_700, color=blue, lw=0.8, label=r'AERI 700-705 cm$^{\rm -1}$')
ax.plot(hr, bt_2295, color=brown, lw=0.8, label=r'AERI 2295-2300 cm$^{\rm -1}$ (Surf Air)')
ax.plot(hr, bt_2282, color=lblue, lw=0.8, label=r'AERI 2282-2287 cm$^{\rm -1}$')
for a, b in day_spans:
    ax.fill_between([a, b], 281.6, 286.4, color='yellow', alpha=0.15, lw=0, zorder=5)
ax.set_xlim(0, 24)
ax.set_ylim(274.2, 294.2)
ax.set_yticks(np.arange(276, 295, 2))
ax.set_xticks([0, 5, 10, 15, 20])
ax.set_ylabel('Zenith BTs, K', color=mblue, fontsize=11)
ax.set_xlabel('UTC hours on 20250810', fontsize=11.5, labelpad=7)
style(ax)
legend(ax, 0.586, 0.89, [2.2, 2.2, 1.2, 1.2])

# ---- panel 4
ax = axs[3]
ax.plot(wn_lw, rad_all_lw, color='k', lw=0.8, label='Mean Radiance 0 to 24h UTC 20250810')
ax.plot(wn_lw, rad_cld_lw, color='#FF0000', lw=0.8, label='... cloudy')
ax.set_xlim(520, 1800)
ax.set_ylim(1.6, 136.7)
ax.set_yticks(np.arange(20, 121, 20))
ax.set_xticks(np.arange(600, 1801, 200))
ax.set_ylabel(r'Mean Radiance, mW/(m$^2$ sr cm$^{-1}$)', color=mblue, fontsize=11)
ax.set_xlabel(r'Wavenumber, cm$^{-1}$', fontsize=11.5, labelpad=7)
style(ax)
legend(ax, 0.554, 0.955, [1.4, 1.4])

# ---- panel 5
ax = axs[4]
ax.plot(wn_sw, rad_all_sw, color='k', lw=0.8, label='Mean Radiance 0 to 24h UTC 20250810')
ax.plot(wn_sw, rad_cld_sw, color='#FF0000', lw=0.8, label='... cloudy')
ax.set_xlim(1800, 3023)
ax.set_ylim(-0.33, 8.44)
ax.set_yticks(np.arange(0, 9, 1))
ax.set_xticks(np.arange(1800, 3001, 200))
ax.set_ylabel(r'Mean Radiance, mW/(m$^2$ sr cm$^{-1}$)', color=mblue, fontsize=11)
ax.set_xlabel(r'Wavenumber, cm$^{-1}$', fontsize=11.5, labelpad=7)
style(ax)
legend(ax, 0.554, 0.952, [1.4, 1.4])

fig.savefig('out.png', dpi=300)
